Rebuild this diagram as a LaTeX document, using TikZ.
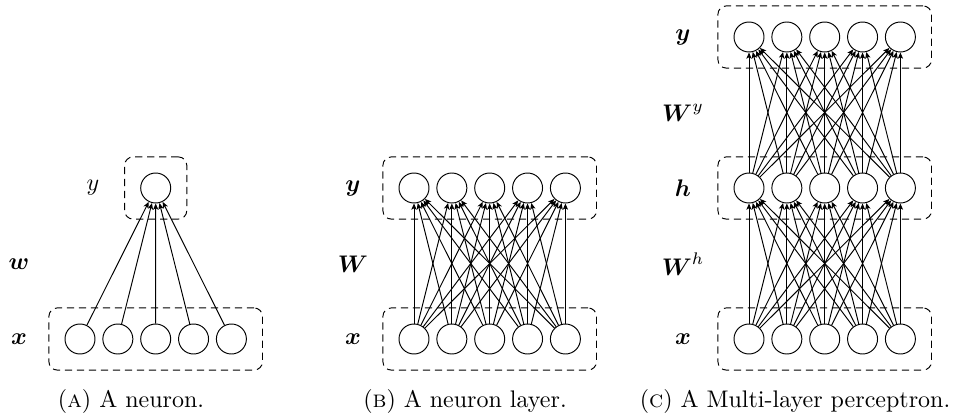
\documentclass[tikz,border=0pt]{standalone}
\usepackage{amsmath}
\usetikzlibrary{arrows.meta, fit}

\tikzset{
  neuron/.style={circle, draw, inner sep=0pt, minimum size=12.5pt},
  layer/.style={draw, dash pattern=on 3pt off 2pt, rounded corners=3.5pt, inner sep=6.5pt},
  conn/.style={-{Stealth[length=2.6pt, width=2.2pt, inset=0.6pt]}},
}

\begin{document}
\begin{tikzpicture}[x=0.41667pt, y=0.41667pt]
  \useasboundingbox (0,0) rectangle (956,416);

  % (a) one neuron
  \foreach \i in {1,...,5}
    \node[neuron] (ax\i) at ({80+37.85*(\i-1)}, 77) {};
  \node[neuron] (ay) at (155.7, 228) {};
  \node[layer, fit=(ax1)(ax5)] (axbox) {};
  \node[layer, fit=(ay)] (aybox) {};
  \foreach \i in {1,...,5}
    \draw[conn] (ax\i) -- (ay);
  \node (alx) at (19, 77) {$\boldsymbol{x}$};
  \node (alw) at (19, 152) {$\boldsymbol{w}$};
  \node (aly) at (93, 228) {$y$};
  \node (acap) at (131, 15) {(\textsc{a}) A neuron.};

  % (b) one layer
  \foreach \i in {1,...,5} {
    \node[neuron] (bx\i) at ({414+37.85*(\i-1)}, 77) {};
    \node[neuron] (by\i) at ({414+37.85*(\i-1)}, 228) {};
  }
  \node[layer, fit=(bx1)(bx5)] (bxbox) {};
  \node[layer, fit=(by1)(by5)] (bybox) {};
  \foreach \i in {1,...,5}
    \foreach \j in {1,...,5}
      \draw[conn] (bx\i) -- (by\j);
  \node (blx) at (353, 77) {$\boldsymbol{x}$};
  \node (blw) at (353, 152) {$\boldsymbol{W}$};
  \node (bly) at (353, 228) {$\boldsymbol{y}$};
  \node (bcap) at (465, 15) {(\textsc{b}) A neuron layer.};

  % (c) two layers
  \foreach \i in {1,...,5} {
    \node[neuron] (cx\i) at ({749+37.85*(\i-1)}, 77) {};
    \node[neuron] (ch\i) at ({749+37.85*(\i-1)}, 228) {};
    \node[neuron] (cy\i) at ({749+37.85*(\i-1)}, 379) {};
  }
  \node[layer, fit=(cx1)(cx5)] (cxbox) {};
  \node[layer, fit=(ch1)(ch5)] (chbox) {};
  \node[layer, fit=(cy1)(cy5)] (cybox) {};
  \foreach \i in {1,...,5}
    \foreach \j in {1,...,5} {
      \draw[conn] (cx\i) -- (ch\j);
      \draw[conn] (ch\i) -- (cy\j);
    }
  \node (clx) at (683, 77) {$\boldsymbol{x}$};
  \node (clwh) at (683, 152) {$\boldsymbol{W}^h$};
  \node (clh) at (683, 228) {$\boldsymbol{h}$};
  \node (clwy) at (683, 303) {$\boldsymbol{W}^y$};
  \node (cly) at (683, 379) {$\boldsymbol{y}$};
  \node (ccap) at (795, 15) {(\textsc{c}) A Multi-layer perceptron.};
\end{tikzpicture}
\end{document}
